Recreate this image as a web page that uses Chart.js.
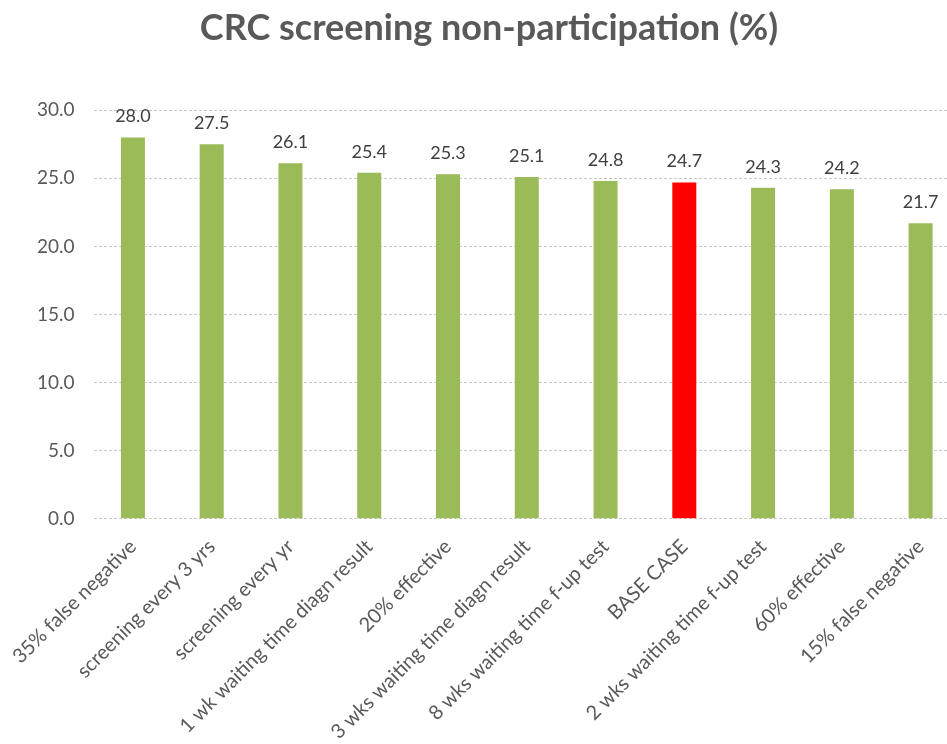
<!DOCTYPE html>
<html>
<head>
<meta charset="utf-8">
<script src="https://cdn.jsdelivr.net/npm/chart.js@4/dist/chart.umd.min.js"></script>
<style>
    html, body { margin: 0; padding: 0; background: #fff; overflow: hidden; }
    #wrap { width: 976px; height: 752px; margin-left: -16px; }
</style>
</head>
<body>
<div id="wrap"><canvas id="crc-chart"></canvas></div>
<script>
const scenarios = [
    '35% false negative',
    'screening every 3 yrs',
    'screening every yr',
    '1 wk waiting time diagn result',
    '20% effective',
    '3 wks waiting time diagn result',
    '8 wks waiting time f-up test',
    'BASE CASE',
    '2 wks waiting time f-up test',
    '60% effective',
    '15% false negative'
];
const nonParticipation = [28.0, 27.5, 26.1, 25.4, 25.3, 25.1, 24.8, 24.7, 24.3, 24.2, 21.7];
const barColors = ['#9BBB59', '#9BBB59', '#9BBB59', '#9BBB59', '#9BBB59', '#9BBB59', '#9BBB59', '#FF0000', '#9BBB59', '#9BBB59', '#9BBB59'];
const yTicks = [0, 5, 10, 15, 20, 25, 30];

const valueLabels = {
    id: 'valueLabels',
    afterDatasetsDraw(chart) {
        const ctx = chart.ctx;
        const meta = chart.getDatasetMeta(0);
        ctx.save();
        ctx.font = '18px Lato';
        ctx.fillStyle = '#404040';
        ctx.textAlign = 'center';
        ctx.textBaseline = 'bottom';
        meta.data.forEach((bar, i) => {
            ctx.fillText(nonParticipation[i].toFixed(1), bar.x, bar.y - 12);
        });
        ctx.restore();
    }
};

new Chart(document.getElementById('crc-chart'), {
    type: 'bar',
    data: {
        labels: scenarios,
        datasets: [{
            data: nonParticipation,
            backgroundColor: barColors,
            categoryPercentage: 1,
            barPercentage: 0.305
        }]
    },
    options: {
        responsive: true,
        maintainAspectRatio: false,
        animation: false,
        layout: { padding: { left: 34, right: 0, top: 0, bottom: 0 } },
        plugins: {
            legend: { display: false },
            tooltip: { enabled: false },
            title: {
                display: true,
                text: 'CRC screening non-participation (%)',
                color: '#595959',
                font: { family: 'Lato', size: 36, weight: 'bold' },
                padding: { top: 7, bottom: 60 }
            }
        },
        scales: {
            x: {
                grid: { display: false },
                border: { display: false },
                ticks: {
                    color: '#595959',
                    font: { family: 'Lato', size: 20 },
                    maxRotation: 45,
                    minRotation: 45,
                    autoSkip: false,
                    padding: 8
                }
            },
            y: {
                min: 0,
                max: 30,
                afterBuildTicks(axis) {
                    axis.ticks = yTicks.map(v => ({ value: v }));
                },
                grid: { color: '#c8c8c8', drawTicks: false },
                border: { display: false, dash: [3, 2] },
                ticks: {
                    color: '#595959',
                    font: { family: 'Lato', size: 19 },
                    padding: 19,
                    callback: v => v.toFixed(1)
                }
            }
        }
    },
    plugins: [valueLabels]
});
</script>
</body>
</html>
